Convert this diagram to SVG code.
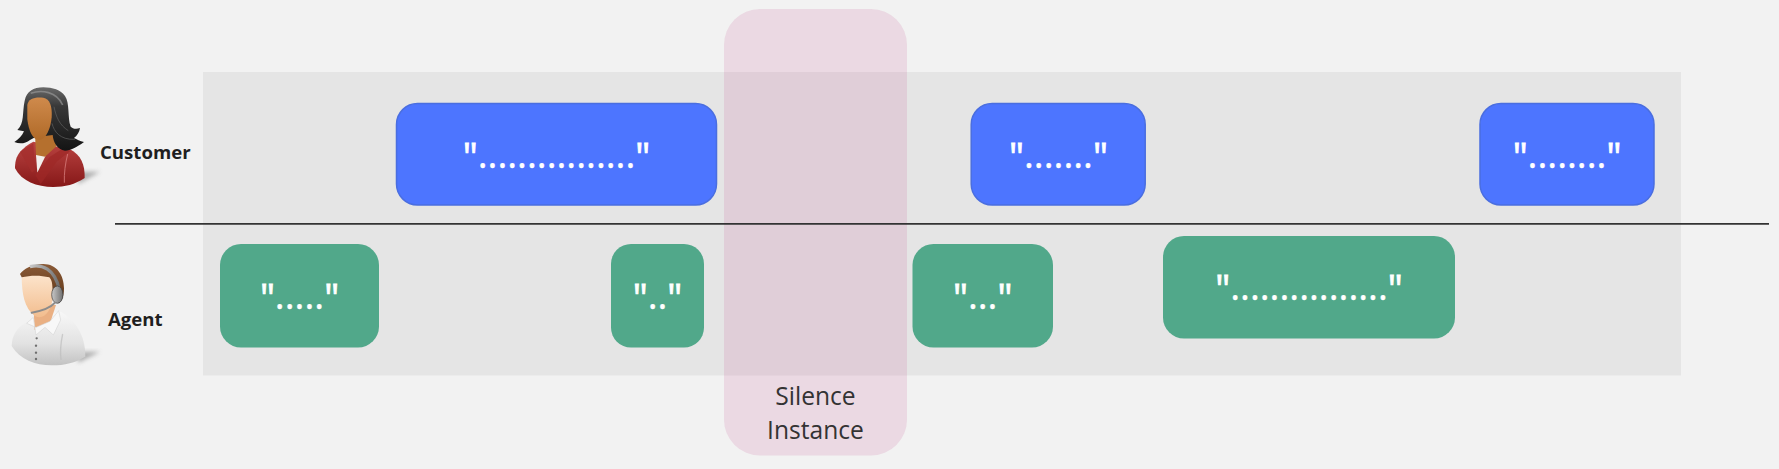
<svg xmlns="http://www.w3.org/2000/svg" width="1779" height="469" viewBox="0 0 1779 469">
<style>
text{font-family:"Open Sans","Noto Sans","DejaVu Sans",sans-serif}
.blue{fill:#4d75ff;stroke:#4a6ee0;stroke-width:1.5}
.green{fill:#51a88a}
.q{fill:#fff;stroke:#fff;stroke-width:.35;font-size:37.5px;text-anchor:middle}
.k{stroke-width:.8}
.lab{fill:#1f1f1f;font-size:18.6px;font-weight:700}
.sil{fill:#333;font-size:24.6px;text-anchor:middle}
</style>
<defs>
<linearGradient id="hair" x1="0" y1="0" x2="0" y2="1"><stop offset="0" stop-color="#6a6a6a"/><stop offset=".3" stop-color="#383838"/><stop offset="1" stop-color="#141414"/></linearGradient>
<linearGradient id="skinD" x1="0" y1="0" x2="0" y2="1"><stop offset="0" stop-color="#cf8a4c"/><stop offset="1" stop-color="#b06a28"/></linearGradient>
<linearGradient id="jacket" x1="0" y1="0" x2="0" y2="1"><stop offset="0" stop-color="#bb4442"/><stop offset="1" stop-color="#861818"/></linearGradient>
<linearGradient id="skinL" x1="0" y1="0" x2="0" y2="1"><stop offset="0" stop-color="#fde6cf"/><stop offset="1" stop-color="#f2bd8e"/></linearGradient>
<linearGradient id="shirt" x1="0" y1="0" x2="0" y2="1"><stop offset="0" stop-color="#f8f8f8"/><stop offset=".6" stop-color="#e2e2e2"/><stop offset="1" stop-color="#c2c2c2"/></linearGradient>
<linearGradient id="brown" x1="0" y1="0" x2="0" y2="1"><stop offset="0" stop-color="#8a5a36"/><stop offset="1" stop-color="#5c3417"/></linearGradient>
<linearGradient id="metal" x1="0" y1="0" x2="1" y2="0"><stop offset="0" stop-color="#c8c8c8"/><stop offset="1" stop-color="#707070"/></linearGradient>
<filter id="blur" x="-30%" y="-30%" width="160%" height="160%"><feGaussianBlur stdDeviation="7"/></filter>
</defs>
<rect width="1779" height="469" fill="#f2f2f2"/>
<rect id="band" x="203" y="72" width="1478" height="303.5" fill="#e5e5e5"/>

<g id="customer-icon" transform="translate(0,60) scale(.33333)">
<path d="M230 335L300 335L235 372Z" fill="#999" opacity=".75" filter="url(#blur)"/>
<path d="M45 325C45 292 55 270 100 245L210 268C242 285 255 312 254 354C225 373 195 381 160 381C110 381 65 364 45 325Z" fill="url(#jacket)"/>
<path d="M108 285L138 285L112 338Z" fill="#f2efec"/>
<path d="M106 345L122 372L170 305L212 272L185 268L150 290Z" fill="#9e2826" opacity=".7"/>
<path d="M60 275L100 250L105 330L96 338Z" fill="#a42e2c" opacity=".7"/>
<path d="M203 282C196 310 192 340 193 368" fill="none" stroke="#dc8482" stroke-width="3" opacity=".75"/>
<path d="M105 222L108 285L135 290L170 258L160 222Z" fill="#b5702e"/>
<path d="M130 82C100 82 80 94 74 122C66 160 74 188 52 210L72 214C66 228 56 238 43 246C58 252 75 252 90 240L105 232L158 225C160 248 172 268 195 272C212 272 230 262 252 246C240 244 230 238 222 234C232 226 238 216 240 204C228 208 218 206 212 200C202 172 210 130 195 108C182 90 158 82 130 82Z" fill="url(#hair)"/>
<path d="M92 100C125 88 170 95 188 135" fill="none" stroke="#a0a0a0" stroke-width="5" opacity=".6"/>
<path d="M162 140C168 170 178 195 205 212M156 190C162 215 180 240 225 238" fill="none" stroke="#6a6a6a" stroke-width="3" opacity=".6"/>
<path d="M82 135C84 116 105 110 130 113C150 116 157 140 155 172C152 205 138 240 116 240C98 240 86 212 82 178Z" fill="url(#skinD)"/>
</g>
<g id="customer"><text class="lab" x="100" y="159">Customer</text></g>

<g id="agent-icon" transform="translate(0,240) scale(.33333)">
<path d="M230 335L300 335L235 368Z" fill="#999" opacity=".75" filter="url(#blur)"/>
<path d="M35 318C36 285 50 262 85 243L178 213C225 240 256 282 256 350C225 368 195 376 155 376C105 376 60 358 35 318Z" fill="url(#shirt)"/>
<path d="M188 282C182 310 180 335 183 360" fill="none" stroke="#bdbdbd" stroke-width="4" opacity=".7"/>
<path d="M100 190L104 270L150 250L168 195Z" fill="#eab083"/>
<path d="M80 250L100 232L108 285L135 262L160 285L182 240L176 212L150 244L108 262Z" fill="#f8f8f8" stroke="#cfcfcf" stroke-width="1.5"/>
<g fill="#6f6f6f"><circle cx="110" cy="295" r="3.5"/><circle cx="108" cy="317" r="3.5"/><circle cx="108" cy="338" r="3.5"/><circle cx="108" cy="357" r="3.5"/></g>
<path d="M65 112C66 160 72 205 105 228C130 242 155 215 160 165L165 110L100 98Z" fill="url(#skinL)"/>
<path d="M60 102C70 88 95 72 130 72C170 72 192 105 192 145C192 170 185 185 175 190L160 160C155 140 160 125 148 112C120 105 90 106 65 112Z" fill="url(#brown)"/>
<path d="M90 80C125 72 165 85 178 150" fill="none" stroke="url(#metal)" stroke-width="10"/>
<ellipse cx="172" cy="164" rx="17" ry="26" fill="url(#metal)" stroke="#3a3a3a" stroke-width="2"/>
<path d="M165 188C150 205 125 213 95 218" fill="none" stroke="#8c8c8c" stroke-width="6" stroke-linecap="round"/>
</g>
<g id="agent"><text class="lab" x="108" y="326">Agent</text></g>

<g id="c1"><rect class="blue" x="396.5" y="103.5" width="320" height="101.5" rx="21"/><text class="q" x="556.5" y="168"><tspan class="k" dy="2.5">"</tspan><tspan dy="-2.5">................</tspan><tspan class="k" dy="2.5">"</tspan></text></g>
<g id="c2"><rect class="blue" x="971.2" y="103.5" width="174" height="101.5" rx="21"/><text class="q" x="1058.5" y="168"><tspan class="k" dy="2.5">"</tspan><tspan dy="-2.5">.......</tspan><tspan class="k" dy="2.5">"</tspan></text></g>
<g id="c3"><rect class="blue" x="1480" y="103.5" width="174" height="101.5" rx="21"/><text class="q" x="1567" y="168"><tspan class="k" dy="2.5">"</tspan><tspan dy="-2.5">........</tspan><tspan class="k" dy="2.5">"</tspan></text></g>
<g id="a1"><rect class="green" x="220" y="244" width="159" height="103.5" rx="21"/><text class="q" x="299.5" y="309"><tspan class="k" dy="2.5">"</tspan><tspan dy="-2.5">.....</tspan><tspan class="k" dy="2.5">"</tspan></text></g>
<g id="a2"><rect class="green" x="611" y="244" width="93" height="103.5" rx="20"/><text class="q" x="657.5" y="309"><tspan class="k" dy="2.5">"</tspan><tspan dy="-2.5">..</tspan><tspan class="k" dy="2.5">"</tspan></text></g>
<g id="a3"><rect class="green" x="912.5" y="244" width="140.5" height="103.5" rx="21"/><text class="q" x="982.7" y="309"><tspan class="k" dy="2.5">"</tspan><tspan dy="-2.5">...</tspan><tspan class="k" dy="2.5">"</tspan></text></g>
<g id="a4"><rect class="green" x="1163" y="236" width="292" height="102.5" rx="21"/><text class="q" x="1309" y="300"><tspan class="k" dy="2.5">"</tspan><tspan dy="-2.5">................</tspan><tspan class="k" dy="2.5">"</tspan></text></g>

<g id="silence"><rect x="724" y="9" width="183" height="446.5" rx="36" fill="#c34b8e" opacity=".15"/>
<text class="sil" x="815.5" y="405">Silence</text><text class="sil" x="815.5" y="439">Instance</text></g>

<g id="connectors"><line x1="115" y1="223.8" x2="1769" y2="223.8" stroke="#333" stroke-width="1.7"/></g>
</svg>
